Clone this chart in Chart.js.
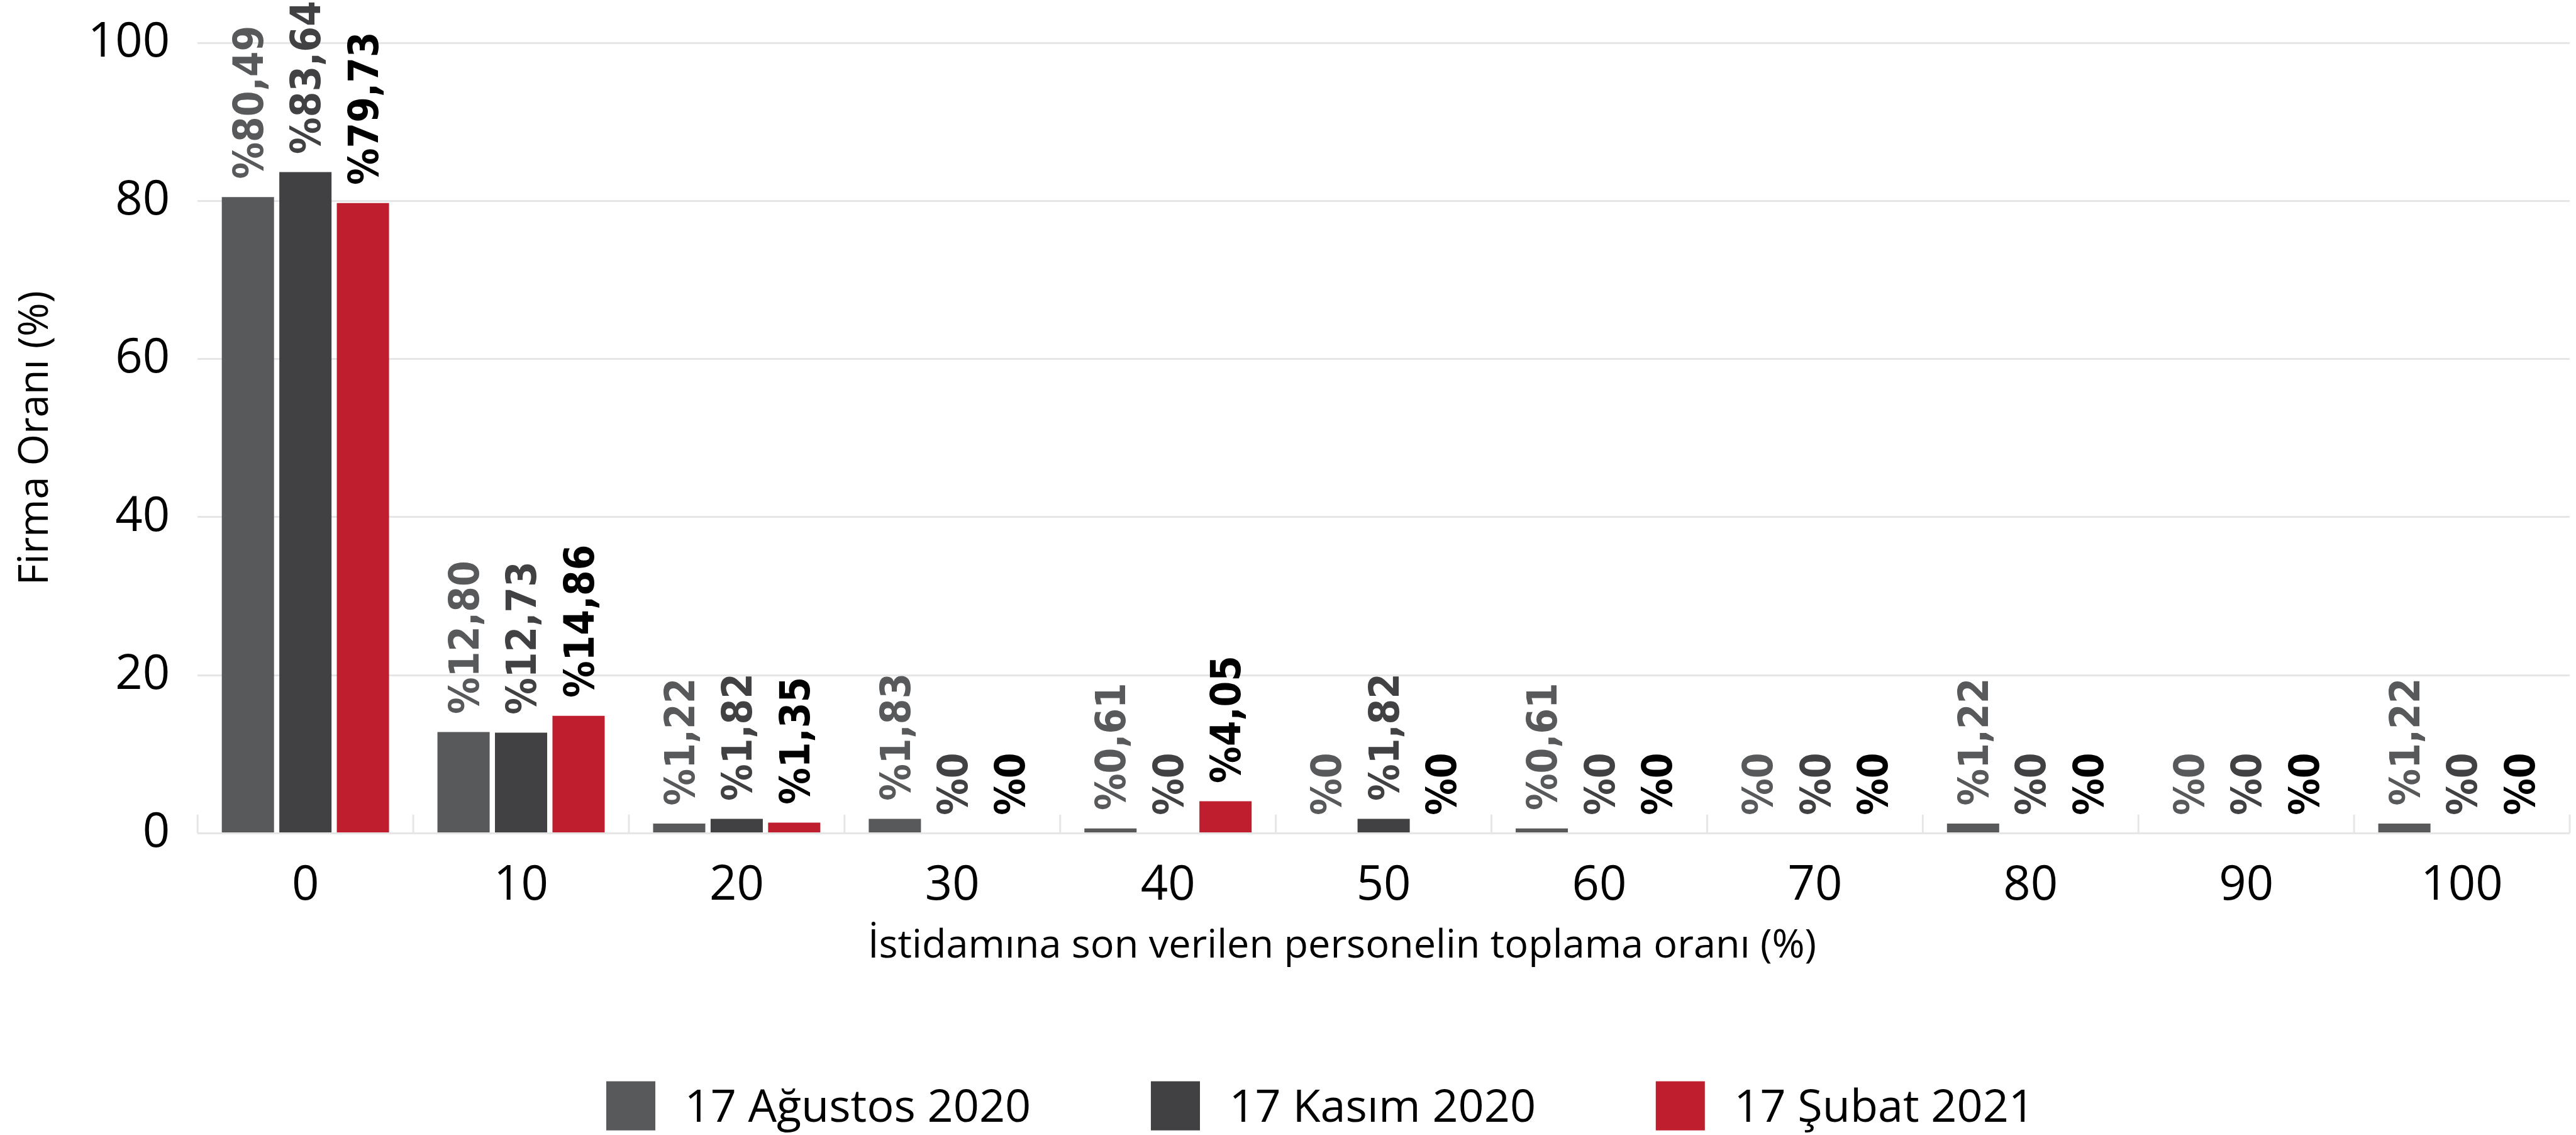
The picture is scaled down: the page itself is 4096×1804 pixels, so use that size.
<!DOCTYPE html>
<html>
<head>
<meta charset="utf-8">
<script src="https://cdn.jsdelivr.net/npm/chart.js@4.4.1/dist/chart.umd.min.js"></script>
<style>
  html, body { margin: 0; padding: 0; background: #fff; }
  #wrap { width: 4096px; height: 1804px; }
</style>
</head>
<body>
<div id="wrap"><canvas id="chart" width="4096" height="1804"></canvas></div>
<script>
const categories = ["0", "10", "20", "30", "40", "50", "60", "70", "80", "90", "100"];
const seriesNames = ["17 Ağustos 2020", "17 Kasım 2020", "17 Şubat 2021"];
const augustValues = [80.49, 12.80, 1.22, 1.83, 0.61, 0, 0.61, 0, 1.22, 0, 1.22];
const novemberValues = [83.64, 12.73, 1.82, 0, 0, 1.82, 0, 0, 0, 0, 0];
const februaryValues = [79.73, 14.86, 1.35, 0, 4.05, 0, 0, 0, 0, 0, 0];
const yTickStep = 20;
const yMax = 100;
const xTitle = "İstidamına son verilen personelin toplama oranı (%)";
const yTitle = "Firma Oranı (%)";

const S = 0.988;
const barColors = ["#58595b", "#414042", "#be1e2d"];
const labelColors = ["#58595b", "#414042", "#000000"];
const gridColor = "#e6e6e6";
const baseFont = "'Open Sans', 'Noto Sans', sans-serif";
const labelFontSize = 65;

function fmt(v) {
  return v === 0 ? "%0" : "%" + v.toFixed(2).replace(".", ",");
}

const extras = {
  id: "extras",
  afterDatasetsDraw(chart) {
    const ctx = chart.ctx;
    const x = chart.scales.x;
    const area = chart.chartArea;

    // little boundary ticks rising from the baseline
    const step = x.getPixelForValue(1) - x.getPixelForValue(0);
    const first = x.getPixelForValue(0) - step / 2;
    ctx.save();
    ctx.strokeStyle = gridColor;
    ctx.lineWidth = 3;
    for (let i = 0; i <= categories.length; i++) {
      const px = first + i * step;
      ctx.beginPath();
      ctx.moveTo(px, area.bottom);
      ctx.lineTo(px, area.bottom - 30 * S);
      ctx.stroke();
    }
    ctx.restore();

    // rotated value labels
    ctx.save();
    ctx.font = "bold " + labelFontSize + "px 'DejaVu Sans Condensed', 'DejaVu Sans', sans-serif";
    ctx.textAlign = "left";
    ctx.textBaseline = "alphabetic";
    const cap = labelFontSize * 0.729;
    chart.data.datasets.forEach((ds, di) => {
      chart.getDatasetMeta(di).data.forEach((bar, j) => {
        ctx.save();
        ctx.translate(bar.x, bar.y - 29 * S);
        ctx.rotate(-Math.PI / 2);
        ctx.fillStyle = labelColors[di];
        ctx.fillText(fmt(ds.data[j]), 0, cap / 2);
        ctx.restore();
      });
    });
    ctx.restore();
  },
  afterDraw(chart) {
    const ctx = chart.ctx;
    ctx.save();
    ctx.fillStyle = "#000";

    // x axis title
    ctx.font = Math.round(64 * S) + "px " + baseFont;
    ctx.textAlign = "center";
    ctx.textBaseline = "alphabetic";
    ctx.fillText(xTitle, 2160 * S, 1540 * S);

    // legend
    const fs = Math.round(73 * S);
    ctx.font = fs + "px " + baseFont;
    ctx.textAlign = "left";
    const box = 79 * S;
    const gap = 47 * S;
    const itemGap = 193 * S;
    const widths = seriesNames.map((n) => ctx.measureText(n).width);
    const total = widths.reduce((a, w) => a + box + gap + w, 0) + itemGap * (seriesNames.length - 1);
    let cx = 2125 * S - total / 2;
    const cy = 1779 * S;
    seriesNames.forEach((name, i) => {
      ctx.fillStyle = barColors[i];
      ctx.fillRect(cx, cy - box / 2, box, box);
      ctx.fillStyle = "#000";
      ctx.fillText(name, cx + box + gap, cy + fs * 0.714 / 2);
      cx += box + gap + widths[i] + itemGap;
    });
    ctx.restore();
  },
};

const tickFont = { family: baseFont, size: Math.round(77 * S) };

new Chart(document.getElementById("chart"), {
  type: "bar",
  data: {
    labels: categories,
    datasets: [
      { label: seriesNames[0], data: augustValues, backgroundColor: barColors[0] },
      { label: seriesNames[1], data: novemberValues, backgroundColor: barColors[1] },
      { label: seriesNames[2], data: februaryValues, backgroundColor: barColors[2] },
    ],
  },
  options: {
    responsive: false,
    animation: false,
    devicePixelRatio: 1,
    layout: { padding: { top: Math.round(69 * S), right: 4096 - Math.round(4136 * S), left: 0, bottom: 0 } },
    datasets: { bar: { categoryPercentage: 0.8, barPercentage: 0.908 } },
    plugins: {
      legend: { display: false },
      tooltip: { enabled: false },
    },
    scales: {
      x: {
        grid: { display: false },
        border: { display: false },
        ticks: { font: tickFont, color: "#000", padding: 30, maxRotation: 0 },
        afterFit(scale) {
          scale.height = 1804 - 1340.5 * S;
          scale.paddingLeft = 0;
          scale.paddingRight = 0;
        },
      },
      y: {
        min: 0,
        max: yMax,
        ticks: { stepSize: yTickStep, font: tickFont, color: "#000", padding: 44 },
        grid: { color: gridColor, lineWidth: 3, drawTicks: false },
        border: { display: false },
        title: {
          display: true,
          text: yTitle,
          font: { family: baseFont, size: Math.round(66 * S) },
          color: "#000",
          padding: { top: 18, bottom: 0 },
        },
        afterFit(scale) {
          scale.width = 318 * S;
          scale.paddingTop = 0;
          scale.paddingBottom = 0;
        },
      },
    },
  },
  plugins: [extras],
});
</script>
</body>
</html>
